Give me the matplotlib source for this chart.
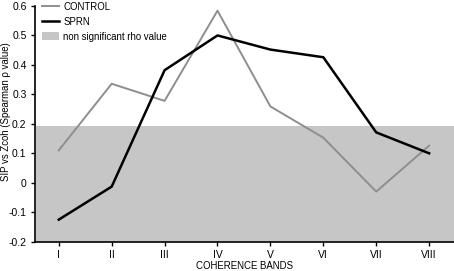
import matplotlib
matplotlib.use('Agg')
import matplotlib.pyplot as plt
from matplotlib.patches import Patch
from matplotlib.lines import Line2D

bands = ['I', 'II', 'III', 'IV', 'V', 'VI', 'VII', 'VIII']
control = [0.11, 0.336, 0.278, 0.584, 0.259, 0.153, -0.03, 0.126]
sprn = [-0.125, -0.013, 0.382, 0.50, 0.452, 0.426, 0.171, 0.10]
nonsig_low, nonsig_high = -0.2, 0.192

plt.rcParams['font.family'] = ['Liberation Sans', 'DejaVu Sans']
plt.rcParams['font.size'] = 7.5

fig = plt.figure(figsize=(4.54, 2.71), dpi=100)
ax = fig.add_axes([0.077, 0.108, 0.923, 0.87])

x = list(range(1, len(bands) + 1))
ax.axhspan(nonsig_low, nonsig_high, xmin=0.003, color='#c6c6c6', lw=0, zorder=0)
ax.plot(x, control, color='#8e8e8e', lw=1.4, zorder=2)
ax.plot(x, sprn, color='black', lw=1.8, zorder=3)

ax.set_xlim(0.55, 8.47)
ax.set_ylim(-0.2, 0.6)
ax.set_xticks(x)
ax.set_xticklabels(bands)
ax.set_yticks([-0.2, -0.1, 0, 0.1, 0.2, 0.3, 0.4, 0.5, 0.6])
ax.set_yticklabels(['-0.2', '-0.1', '0', '0.1', '0.2', '0.3', '0.4', '0.5', '0.6'])
ax.spines['top'].set_visible(False)
ax.spines['right'].set_visible(False)
ax.spines['left'].set_linewidth(1.2)
ax.spines['bottom'].set_linewidth(1.2)
ax.tick_params(length=3, width=1, pad=3)

ax.set_xlabel('COHERENCE BANDS', va='bottom', fontsize=6.9)
ax.xaxis.set_label_coords(0.5, -0.124)
ax.set_ylabel('SIP vs Zcoh (Spearman \u03c1 value)', va='top', fontsize=6.9)
ax.yaxis.set_label_coords(-0.082, 0.55)

handles = [Line2D([], [], color='#8e8e8e', lw=1.4),
           Line2D([], [], color='black', lw=1.8),
           Patch(facecolor='#c6c6c6', edgecolor='none')]
ax.legend(handles, ['CONTROL', 'SPRN', 'non significant rho value'],
          loc='upper left', bbox_to_anchor=(0.0, 1.045), frameon=False,
          fontsize=6.9, handlelength=1.85, handleheight=0.9,
          handletextpad=0.4, labelspacing=0.5, borderaxespad=0.3)

fig.savefig('out.png', dpi=100)
